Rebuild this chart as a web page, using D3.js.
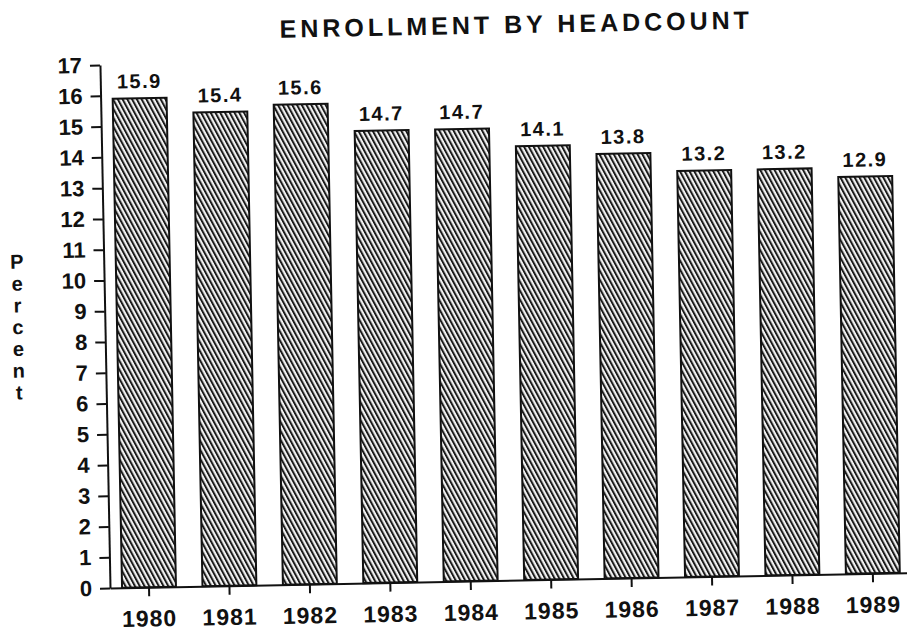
<!DOCTYPE html>
<html>
<head>
<meta charset="utf-8">
<script src="https://cdn.jsdelivr.net/npm/d3@7"></script>
<style>
  body { margin: 0; background: #fff; }
  svg { display: block; }
  text { font-family: "Liberation Sans", Arial, sans-serif; font-weight: bold; fill: #111; }
</style>
</head>
<body>
<svg id="chart" width="907" height="636"></svg>
<script>
// data
const years = ['1980', '1981', '1982', '1983', '1984', '1985', '1986', '1987', '1988', '1989'];
const percents = [15.9, 15.4, 15.6, 14.7, 14.7, 14.1, 13.8, 13.2, 13.2, 12.9];
const yTicks = d3.range(0, 18);

const svg = d3.select('#chart');
const axisLeftX = 110, axisBottomY = 588, axisTopY = 65;

// hatch fill
const defs = svg.append('defs');
const pat = defs.append('pattern')
    .attr('id', 'hatch')
    .attr('patternUnits', 'userSpaceOnUse')
    .attr('width', 4.2)
    .attr('height', 10)
    .attr('patternTransform', 'rotate(-27)');
pat.append('rect').attr('width', 4.2).attr('height', 10).attr('fill', '#f2f2f2');
pat.append('line')
    .attr('x1', 1).attr('y1', 0).attr('x2', 1).attr('y2', 10)
    .attr('stroke', '#1a1a1a').attr('stroke-width', 2);

// the scan is tilted slightly, so the whole chart is too
const g = svg.append('g').attr('transform', `rotate(-1.1 ${axisLeftX} ${axisBottomY})`);

const x = d3.scaleBand()
    .domain(years)
    .range([axisLeftX, 912])
    .paddingInner(0.33)
    .paddingOuter(0.15);

const y = d3.scaleLinear()
    .domain([0, 17])
    .range([axisBottomY, axisTopY]);

g.append('text')
    .attr('x', 527)
    .attr('y', 41)
    .attr('text-anchor', 'middle')
    .attr('font-size', 25)
    .attr('letter-spacing', 4)
    .text('ENROLLMENT BY HEADCOUNT');

// stacked "Percent" label
g.append('text')
    .attr('x', 23)
    .attr('y', 267)
    .attr('text-anchor', 'middle')
    .attr('font-size', 20)
    .selectAll('tspan')
    .data('Percent'.split(''))
    .join('tspan')
    .attr('x', 23)
    .attr('dy', (d, i) => i === 0 ? 0 : 21.8)
    .text(d => d);

g.selectAll('rect.bar')
    .data(percents)
    .join('rect')
    .attr('class', 'bar')
    .attr('x', (d, i) => x(years[i]))
    .attr('y', d => y(d))
    .attr('width', x.bandwidth())
    .attr('height', d => y(0) - y(d))
    .attr('fill', 'url(#hatch)')
    .attr('stroke', '#111')
    .attr('stroke-width', 2);

g.selectAll('text.val')
    .data(percents)
    .join('text')
    .attr('class', 'val')
    .attr('x', (d, i) => x(years[i]) + x.bandwidth() / 2)
    .attr('y', d => y(d) - 10)
    .attr('text-anchor', 'middle')
    .attr('font-size', 20)
    .attr('letter-spacing', 1.5)
    .text(d => d.toFixed(1));

const yAxis = g.append('g')
    .attr('transform', `translate(${axisLeftX},0)`)
    .call(d3.axisLeft(y).tickValues(yTicks).tickSize(10).tickPadding(8).tickSizeOuter(0));
yAxis.selectAll('text').attr('font-size', 22).attr('font-family', '"Liberation Sans", Arial, sans-serif');

const xAxis = g.append('g')
    .attr('transform', `translate(0,${axisBottomY})`)
    .call(d3.axisBottom(x).tickSize(9).tickPadding(14).tickSizeOuter(0));
xAxis.selectAll('text').attr('font-size', 23).attr('letter-spacing', 1).attr('font-family', '"Liberation Sans", Arial, sans-serif');

g.selectAll('.domain, .tick line').attr('stroke', '#111').attr('stroke-width', 2);
</script>
</body>
</html>
